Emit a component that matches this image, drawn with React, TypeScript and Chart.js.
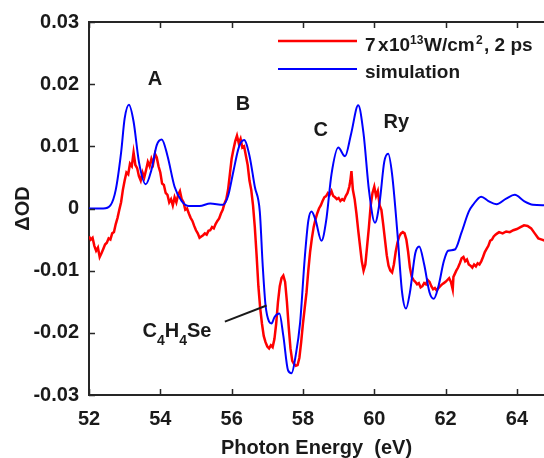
import React, { useEffect, useRef } from "react";
import { Chart, registerables } from "chart.js";

Chart.register(...registerables);

// ---- data ----
const xTicks = [52, 54, 56, 58, 60, 62, 64];
const xTickLabels = ["52", "54", "56", "58", "60", "62", "64"];
const yTicks = [-0.03, -0.02, -0.01, 0, 0.01, 0.02, 0.03];
const yTickLabels = ["-0.03", "-0.02", "-0.01", "0", "0.01", "0.02", "0.03"];

const simE = [
  52.0, 52.4, 52.6, 52.75, 52.9, 53.0, 53.12, 53.25, 53.4, 53.59, 53.75, 53.9, 54.04, 54.2, 54.4, 54.6,
  54.8, 55.1, 55.4, 55.76, 55.9, 56.05, 56.2, 56.35, 56.5, 56.65, 56.79, 56.87, 56.95, 57.05, 57.12,
  57.2, 57.34, 57.45, 57.58, 57.68, 57.8, 57.92, 58.05, 58.15, 58.24, 58.35, 58.52, 58.65, 58.8, 58.99,
  59.18, 59.35, 59.55, 59.7, 59.85, 60.02, 60.15, 60.28, 60.39, 60.5, 60.65, 60.78, 60.89, 61.0, 61.15,
  61.26, 61.4, 61.55, 61.67, 61.8, 61.95, 62.07, 62.26, 62.45, 62.65, 62.77, 63.0, 63.2, 63.43, 63.7,
  63.94, 64.2, 64.45, 64.8,
];
const simV = [
  0, 0, 0.0005, 0.003, 0.009, 0.0145, 0.0167, 0.014, 0.0075, 0.0039, 0.0062, 0.0102, 0.0111, 0.0085,
  0.0035, 0.0012, 0.0004, 0.0004, 0.0008, 0.0006, 0.002, 0.006, 0.0098, 0.011, 0.0085, 0.0035, -0.0005,
  -0.009, -0.0155, -0.0182, -0.0185, -0.0175, -0.0169, -0.0205, -0.026, -0.0265, -0.0235, -0.0184,
  -0.008, -0.002, -0.0005, -0.0018, -0.0052, -0.002, 0.0055, 0.0098, 0.0084, 0.012, 0.0166, 0.012,
  0.003, -0.0023, 0.001, 0.0075, 0.0088, 0.0055, -0.004, -0.0135, -0.0161, -0.0135, -0.0072, -0.0061,
  -0.009, -0.0135, -0.0145, -0.0125, -0.0085, -0.0068, -0.0066, -0.0038, -0.0005, 0.0006, 0.0019,
  0.0012, 0.0007, 0.0016, 0.0022, 0.0012, 0.0006, 0.0005,
];

const expE = [
  52.0, 52.05, 52.1, 52.15, 52.2, 52.25, 52.3, 52.35, 52.4, 52.45, 52.5, 52.55, 52.6, 52.65, 52.7, 52.75,
  52.8, 52.85, 52.9, 52.95, 53.0, 53.05, 53.1, 53.15, 53.2, 53.25, 53.3, 53.35, 53.4, 53.45, 53.5, 53.55,
  53.6, 53.65, 53.7, 53.75, 53.8, 53.85, 53.9, 53.95, 54.0, 54.05, 54.1, 54.15, 54.2, 54.25, 54.3, 54.35,
  54.4, 54.45, 54.5, 54.55, 54.6, 54.65, 54.7, 54.75, 54.8, 54.85, 54.9, 54.95, 55.0, 55.05, 55.1, 55.15,
  55.2, 55.25, 55.3, 55.35, 55.4, 55.45, 55.5, 55.55, 55.6, 55.65, 55.7, 55.75, 55.8, 55.85, 55.9, 55.95,
  56.0, 56.05, 56.1, 56.15, 56.2, 56.25, 56.3, 56.35, 56.4, 56.45, 56.5, 56.55, 56.6, 56.65, 56.7, 56.75,
  56.8, 56.85, 56.9, 56.95, 57.0, 57.05, 57.1, 57.15, 57.2, 57.25, 57.3, 57.35, 57.4, 57.45, 57.5, 57.55,
  57.6, 57.65, 57.7, 57.75, 57.8, 57.85, 57.9, 57.95, 58.0, 58.05, 58.1, 58.15, 58.2, 58.25, 58.3, 58.35,
  58.4, 58.45, 58.5, 58.55, 58.6, 58.65, 58.7, 58.75, 58.8, 58.85, 58.9, 58.95, 59.0, 59.05, 59.1, 59.15,
  59.2, 59.25, 59.3, 59.33, 59.36, 59.4, 59.45, 59.5, 59.55, 59.6, 59.65, 59.7, 59.75, 59.8, 59.85, 59.9,
  59.95, 60.0, 60.05, 60.1, 60.15, 60.2, 60.25, 60.3, 60.35, 60.4, 60.45, 60.5, 60.55, 60.6, 60.65, 60.7,
  60.75, 60.8, 60.85, 60.9, 60.95, 61.0, 61.05, 61.1, 61.15, 61.2, 61.25, 61.3, 61.35, 61.4, 61.45, 61.5,
  61.55, 61.6, 61.65, 61.7, 61.75, 61.8, 61.85, 61.9, 61.95, 62.0, 62.05, 62.1, 62.15, 62.2, 62.22, 62.3,
  62.35, 62.4, 62.45, 62.5, 62.55, 62.6, 62.65, 62.7, 62.75, 62.8, 62.85, 62.9, 62.95, 63.0, 63.05, 63.1,
  63.15, 63.2, 63.25, 63.3, 63.35, 63.4, 63.45, 63.5, 63.6, 63.7, 63.8, 63.9, 64.0, 64.1, 64.2, 64.3,
  64.4, 64.5, 64.6, 64.7, 64.8,
];
const expV = [
  -0.0045, -0.005, -0.0047, -0.006, -0.0068, -0.0063, -0.0078, -0.0072, -0.0065, -0.0058, -0.0055,
  -0.0048, -0.005, -0.004, -0.0038, -0.0025, -0.0015, -0.0002, 0.001, 0.003, 0.0045, 0.0058, 0.0055,
  0.0072, 0.0068, 0.009, 0.007, 0.0065, 0.0052, 0.0045, 0.0058, 0.005, 0.0062, 0.0075, 0.0068, 0.008,
  0.0072, 0.0088, 0.0082, 0.0068, 0.0058, 0.004, 0.0038, 0.0025, 0.0022, 0.001, 0.0015, 0.0005, 0.0018,
  0.001, 0.0022, 0.0028, 0.0015, 0.001, -0.0002, 0.0, -0.0008, -0.0015, -0.002, -0.0028, -0.0035, -0.004,
  -0.0047, -0.0045, -0.0043, -0.004, -0.0042, -0.0036, -0.0035, -0.003, -0.0032, -0.0025, -0.002,
  -0.0016, -0.0008, -0.0002, 0.0008, 0.0015, 0.003, 0.0055, 0.008, 0.0095, 0.0108, 0.0117, 0.0105,
  0.0112, 0.0098, 0.01, 0.0085, 0.007, 0.0045, 0.003, 0.0005, -0.003, -0.0075, -0.0125, -0.016, -0.0185,
  -0.0205, -0.0215, -0.0222, -0.0225, -0.022, -0.0223, -0.021, -0.0185, -0.015, -0.0125, -0.0112,
  -0.0108, -0.0118, -0.015, -0.019, -0.0225, -0.0245, -0.025, -0.0253, -0.0252, -0.024, -0.0215,
  -0.0185, -0.016, -0.0135, -0.01, -0.007, -0.0048, -0.003, -0.0018, -0.0008, 0.0, 0.0005, 0.0012,
  0.0018, 0.002, 0.0025, 0.0022, 0.0028, 0.002, 0.0018, 0.0015, 0.0017, 0.0012, 0.0015, 0.0013, 0.002,
  0.0025, 0.0035, 0.0045, 0.006, 0.003, 0.0015, -0.0008, -0.0035, -0.006, -0.0085, -0.01, -0.009, -0.006,
  -0.003, 0.0005, 0.0025, 0.0035, 0.002, 0.0028, 0.0005, -0.0002, -0.0025, -0.005, -0.0075, -0.0092,
  -0.01, -0.0103, -0.009, -0.007, -0.0055, -0.0045, -0.004, -0.0038, -0.004, -0.005, -0.007, -0.0095,
  -0.011, -0.0115, -0.0118, -0.0122, -0.012, -0.0127, -0.0125, -0.012, -0.0122, -0.0115, -0.0118,
  -0.0125, -0.013, -0.0128, -0.0132, -0.0128, -0.0125, -0.0122, -0.012, -0.0118, -0.0115, -0.0112,
  -0.0118, -0.013, -0.011, -0.01, -0.0095, -0.0088, -0.008, -0.0078, -0.0085, -0.0082, -0.009, -0.0092,
  -0.0095, -0.009, -0.0093, -0.0088, -0.009, -0.0085, -0.0078, -0.007, -0.0065, -0.006, -0.0052, -0.005,
  -0.0045, -0.0042, -0.004, -0.0038, -0.004, -0.0037, -0.0038, -0.0035, -0.0033, -0.003, -0.0027,
  -0.0028, -0.0032, -0.004, -0.0048, -0.005, -0.0052,
];

// peak labels [text, x (eV), y (ΔOD)]
const peakLabels: [string, number, number][] = [
  ["A", 53.85, 0.0199],
  ["B", 56.32, 0.0158],
  ["C", 58.5, 0.0117],
  ["Ry", 60.62, 0.013],
];
const moleculeLabel = { x: 53.5, y: -0.0207 };
const leader = { x1: 55.81, y1: -0.0182, x2: 56.98, y2: -0.0156 };

const FONT = '"Liberation Sans", Arial, Helvetica, sans-serif';
const INK = "#1a1a1a";
const AXIS = "#262626";

const decorPlugin = {
  id: "decor",
  afterDraw(chart: any) {
    const ctx = chart.ctx as CanvasRenderingContext2D;
    const { top, bottom, left, right } = chart.chartArea;
    const xs = chart.scales.x;
    const ys = chart.scales.y;
    ctx.save();
    // top box line
    ctx.strokeStyle = AXIS;
    ctx.lineWidth = 2;
    ctx.beginPath();
    ctx.moveTo(left - 1, top);
    ctx.lineTo(right, top);
    ctx.stroke();
    // inward ticks
    ctx.lineWidth = 1.5;
    ctx.beginPath();
    xTicks.forEach((v) => {
      const px = Math.round(xs.getPixelForValue(v)) + 0.5;
      ctx.moveTo(px, bottom);
      ctx.lineTo(px, bottom - 6);
      ctx.moveTo(px, top);
      ctx.lineTo(px, top + 6);
    });
    yTicks.forEach((v) => {
      const py = Math.round(ys.getPixelForValue(v)) + 0.5;
      ctx.moveTo(left, py);
      ctx.lineTo(left + 6, py);
    });
    ctx.stroke();

    // peak labels
    ctx.fillStyle = INK;
    ctx.font = `bold 20px ${FONT}`;
    ctx.textAlign = "center";
    ctx.textBaseline = "alphabetic";
    peakLabels.forEach(([t, x, y]) => {
      ctx.fillText(t, xs.getPixelForValue(x), ys.getPixelForValue(y));
    });

    // molecule label C4H4Se
    ctx.textAlign = "left";
    let cx = xs.getPixelForValue(moleculeLabel.x);
    const by = ys.getPixelForValue(moleculeLabel.y);
    const parts: [string, boolean][] = [
      ["C", false],
      ["4", true],
      ["H", false],
      ["4", true],
      ["Se", false],
    ];
    parts.forEach(([t, sub]) => {
      ctx.font = sub ? `bold 14px ${FONT}` : `bold 20px ${FONT}`;
      ctx.fillText(t, cx, sub ? by + 8 : by);
      cx += ctx.measureText(t).width;
    });
    ctx.strokeStyle = INK;
    ctx.lineWidth = 2;
    ctx.beginPath();
    ctx.moveTo(xs.getPixelForValue(leader.x1), ys.getPixelForValue(leader.y1));
    ctx.lineTo(xs.getPixelForValue(leader.x2), ys.getPixelForValue(leader.y2));
    ctx.stroke();

    // legend
    ctx.lineWidth = 2.5;
    ctx.strokeStyle = "#ff0000";
    ctx.beginPath();
    ctx.moveTo(278, 41);
    ctx.lineTo(357, 41);
    ctx.stroke();
    ctx.lineWidth = 2;
    ctx.strokeStyle = "#0000ff";
    ctx.beginPath();
    ctx.moveTo(278, 69);
    ctx.lineTo(357, 69);
    ctx.stroke();

    const leg: [string, number, boolean][] = [
      ["7", 365, false],
      ["x", 378, false],
      ["10", 389, false],
      ["13", 410, true],
      ["W/cm", 424, false],
      ["2", 476, true],
      [", 2 ps", 484, false],
    ];
    leg.forEach(([t, x, sup]) => {
      ctx.font = sup ? `bold 12px ${FONT}` : `bold 19px ${FONT}`;
      ctx.fillText(t, x, sup ? 44 : 51);
    });
    ctx.font = `bold 19px ${FONT}`;
    ctx.fillText("simulation", 365, 77.5);
    ctx.restore();
  },
};

export default function App() {
  const ref = useRef<HTMLCanvasElement | null>(null);
  useEffect(() => {
    if (!ref.current) return;
    const chart = new Chart(ref.current, {
      type: "line",
      data: {
        datasets: [
          {
            label: "simulation",
            data: simE.map((x, i) => ({ x, y: simV[i] })),
            borderColor: "#0000ff",
            borderWidth: 2,
            pointRadius: 0,
            cubicInterpolationMode: "monotone",
            fill: false,
            order: 0,
          },
          {
            label: "7 x 10^13 W/cm^2, 2 ps",
            data: expE.map((x, i) => ({ x, y: expV[i] })),
            borderColor: "#ff0000",
            borderWidth: 2.5,
            pointRadius: 0,
            tension: 0,
            fill: false,
            order: 1,
          },
        ],
      },
      options: {
        animation: false,
        responsive: false,
        devicePixelRatio: 1,
        layout: { padding: { top: 18, left: 0, right: 0, bottom: 0 } },
        plugins: { legend: { display: false }, tooltip: { enabled: false } },
        scales: {
          x: {
            type: "linear",
            min: 52,
            max: 64.76,
            afterBuildTicks: (s: any) => {
              s.ticks = xTicks.map((v) => ({ value: v }));
            },
            afterFit: (s: any) => {
              s.height = 63;
            },
            grid: { display: false, drawTicks: false },
            border: { display: true, color: AXIS, width: 2 },
            ticks: {
              padding: 12.5,
              color: INK,
              font: { family: FONT, size: 20, weight: "bold", lineHeight: 1.2 },
              maxRotation: 0,
              callback: (_v: any, i: number) => xTickLabels[i],
            },
            title: {
              display: true,
              text: "Photon Energy  (eV)",
              color: INK,
              padding: { top: 0, bottom: 0 },
              font: { family: FONT, size: 20, weight: "bold", lineHeight: 1 },
            },
          },
          y: {
            type: "linear",
            min: -0.03,
            max: 0.03,
            afterBuildTicks: (s: any) => {
              s.ticks = yTicks.map((v) => ({ value: v }));
            },
            afterFit: (s: any) => {
              s.width = 89;
            },
            grid: { display: false, drawTicks: false },
            border: { display: true, color: AXIS, width: 2 },
            ticks: {
              padding: 10,
              color: INK,
              font: { family: FONT, size: 20, weight: "bold", lineHeight: 1.2 },
              callback: (_v: any, i: number) => yTickLabels[i],
            },
            title: {
              display: true,
              text: "ΔOD",
              color: INK,
              padding: { top: 13, bottom: 0 },
              font: { family: FONT, size: 20, weight: "bold", lineHeight: 1 },
            },
          },
        },
      },
      plugins: [decorPlugin],
    } as any);
    return () => chart.destroy();
  }, []);
  return (
    <div style={{ position: "absolute", left: 0, top: 0, width: 544, height: 458, background: "#fff" }}>
      <canvas ref={ref} width={544} height={458} style={{ display: "block", width: 544, height: 458 }} />
    </div>
  );
}
